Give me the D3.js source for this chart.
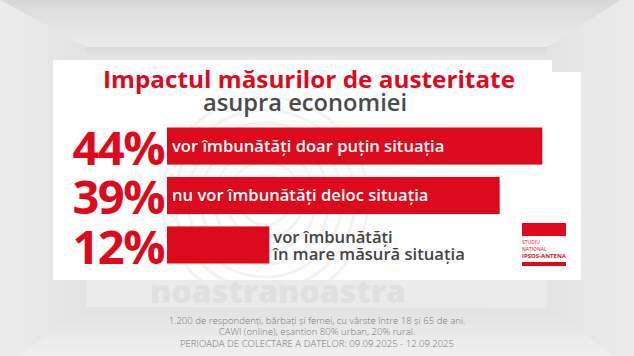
<!DOCTYPE html>
<html><head><meta charset="utf-8">
<script src="https://cdn.jsdelivr.net/npm/d3@7/dist/d3.min.js"></script>
<style>
html,body{margin:0;padding:0;background:#e8e8e8;}
svg{display:block;}
</style></head>
<body>
<svg id="chart" width="634" height="356"></svg>
<script>
// ---- data ----
const categories = ["doar putin", "deloc", "in mare masura"];
const values = [44, 39, 12];
const labelLines = [
  ["vor îmbunătăți doar puțin situația"],
  ["nu vor îmbunătăți deloc situația"],
  ["vor îmbunătăți", "în mare măsură situația"]
];
const titleLine1 = "Impactul măsurilor de austeritate";
const titleLine2 = "asupra economiei";
const logoLines = ["STUDIU", "NAȚIONAL", "IPSOS-ANTENA"];
const footerLines = [
  "1.200 de respondenți, bărbați și femei, cu vârste între 18 și 65 de ani.",
  "CAWI (online), eșantion 80% urban, 20% rural.",
  "PERIOADA DE COLECTARE A DATELOR: 09.09.2025 - 12.09.2025"
];

const RED = "#dc0a1c";
const svg = d3.select("#chart");
const defs = svg.append("defs");

// ---- room background ----
function vgrad(id, stops, horiz) {
  const g = defs.append("linearGradient").attr("id", id)
    .attr("x1",0).attr("y1",0).attr("x2", horiz ? 1 : 0).attr("y2", horiz ? 0 : 1);
  stops.forEach(s => g.append("stop").attr("offset", s[0]).attr("stop-color", s[1]));
}
vgrad("ceil", [["0%","#d9d9d9"],["100%","#ececec"]]);
vgrad("floor", [["0%","#e2e2e2"],["100%","#f0f0f0"]]);
vgrad("lwall", [["0%","#ececec"],["100%","#e3e3e3"]], true);
vgrad("rwall", [["0%","#e3e3e3"],["100%","#ececec"]], true);
vgrad("bwall", [["0%","#dadada"],["5%","#e8e8e8"],["100%","#ebebeb"]]);

const room = svg.append("g");
room.append("rect").attr("width",634).attr("height",356).attr("fill","#e8e8e8");
room.append("rect").attr("x",86).attr("y",47).attr("width",461).attr("height",261).attr("fill","url(#bwall)");
room.append("path").attr("d","M0,0 L621,0 L547,47 L86,47 Z").attr("fill","url(#ceil)");
room.append("path").attr("d","M0,0 L86,47 L86,307 L19,356 L0,356 Z").attr("fill","url(#lwall)");
room.append("path").attr("d","M621,0 L634,0 L634,356 L614,356 L547,308 L547,47 Z").attr("fill","url(#rwall)");
room.append("path").attr("d","M86,307 L547,308 L614,356 L19,356 Z").attr("fill","url(#floor)");

// faint watermark behind the panel
room.append("text").attr("x",150).attr("y",303)
  .attr("font-family","'Open Sans', sans-serif").attr("font-weight",800)
  .attr("font-size",32).attr("fill","#e0e0e0").text("noastranoastra");

// ---- panel ----
const panelD = "M53,60 L552,60 L552,72 L581,72 L581,280 L53,280 Z";
defs.append("clipPath").attr("id","panelClip").append("path").attr("d", panelD);
svg.append("path").attr("d", panelD).attr("fill","#ffffff");
// faint fingerprint arcs inside panel
const fp = svg.append("g").attr("clip-path","url(#panelClip)")
  .attr("fill","none").attr("stroke","#f3f3f3").attr("stroke-width",3);
d3.range(7).forEach(i => {
  fp.append("circle").attr("cx",265).attr("cy",200).attr("r",25 + i*13);
});

// ---- title ----
svg.append("text").attr("x",309).attr("y",88).attr("text-anchor","middle")
  .attr("font-family","'Open Sans', sans-serif").attr("font-weight",700).attr("font-size",23)
  .attr("fill",RED).attr("textLength",412).attr("lengthAdjust","spacingAndGlyphs").text(titleLine1);
svg.append("text").attr("x",305).attr("y",111).attr("text-anchor","middle")
  .attr("font-family","'Open Sans', sans-serif").attr("font-weight",600).attr("font-size",23)
  .attr("fill","#4a4a4a").attr("textLength",204).attr("lengthAdjust","spacingAndGlyphs").text(titleLine2);

// ---- scales ----
const x0 = 167;
const x = d3.scaleLinear().domain([0, 100]).range([0, 853]);
const y = d3.scaleBand().domain(categories).range([127.5, 263.5]).paddingInner(0.25).paddingOuter(0);

const rows = svg.append("g").selectAll("g").data(categories).join("g");
rows.append("rect")
  .attr("x", x0)
  .attr("y", d => y(d))
  .attr("width", (d,i) => x(values[i]))
  .attr("height", y.bandwidth())
  .attr("fill", RED);

rows.append("text")
  .attr("x", x0 - 3)
  .attr("y", d => y(d) + y.bandwidth())
  .attr("text-anchor","end")
  .attr("font-family","'Open Sans', sans-serif").attr("font-weight",700).attr("font-size",47)
  .attr("fill",RED).attr("letter-spacing",-1.5)
  .text((d,i) => values[i] + "%");

rows.each(function(d,i){
  const g = d3.select(this);
  const lines = labelLines[i];
  const bw = x(values[i]);
  const inside = lines.length === 1;
  const t = g.append("text")
    .attr("font-family","'Open Sans', sans-serif").attr("font-weight",600).attr("font-size",16.6)
    .attr("fill", inside ? "#ffffff" : "#444444");
  if (inside) {
    t.attr("x", x0 + 5).attr("y", y(d) + y.bandwidth()/2 + 5.5).text(lines[0]);
  } else {
    lines.forEach((ln, k) => {
      t.append("tspan").attr("x", x0 + bw + 4)
        .attr("y", y(d) + y.bandwidth()/2 - 2 + k*17).text(ln);
    });
  }
});

// ---- logo ----
const logo = svg.append("g");
logo.append("rect").attr("x",522).attr("y",223).attr("width",44).attr("height",13).attr("fill",RED);
logo.append("rect").attr("x",522).attr("y",262).attr("width",44).attr("height",4).attr("fill",RED);
logoLines.forEach((ln,k) => {
  const t = logo.append("text").attr("x",522).attr("y",244.3 + k*6.8)
    .attr("font-family","'Open Sans', sans-serif")
    .attr("font-weight", k === 2 ? 700 : 400)
    .attr("font-size",5).attr("fill",RED)
    .text(ln);
  if (k === 2) t.attr("textLength",44).attr("lengthAdjust","spacingAndGlyphs");
});

// ---- footer ----
svg.append("g").selectAll("text").data(footerLines).join("text")
  .attr("x",317).attr("y",(d,i) => 323.5 + i*11.5)
  .attr("text-anchor","middle")
  .attr("font-family","'Open Sans', sans-serif").attr("font-weight",300).attr("font-size",9.6)
  .attr("fill","#777777")
  .text(d => d);
</script>
</body></html>
